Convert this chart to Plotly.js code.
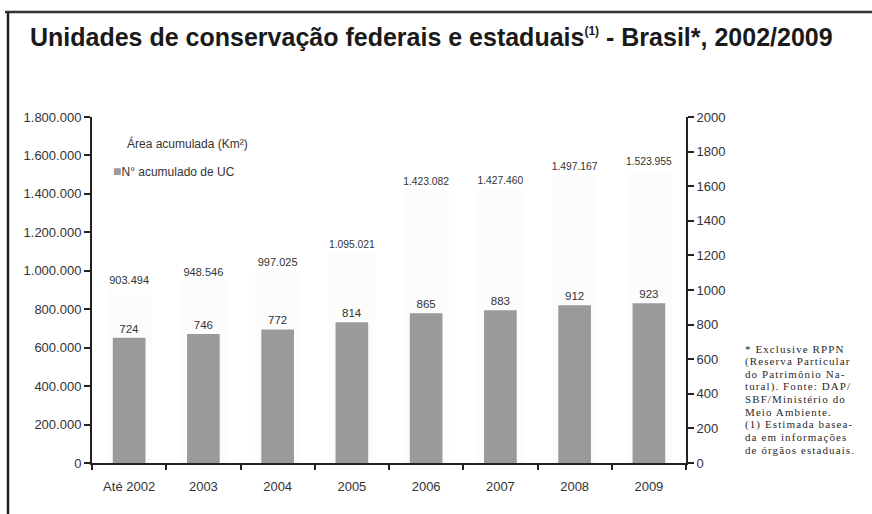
<!DOCTYPE html>
<html>
<head>
<meta charset="utf-8">
<script src="https://cdn.plot.ly/plotly-3.0.1.min.js"></script>
<style>
html,body{margin:0;padding:0;background:#fff;}
#chart{width:872px;height:514px;}
</style>
</head>
<body>
<div id="chart"></div>
<script>
const categories = ['Até 2002','2003','2004','2005','2006','2007','2008','2009'];
const areaKm2 = [903494, 948546, 997025, 1095021, 1423082, 1427460, 1497167, 1523955];
const ucCount = [724, 746, 772, 814, 865, 883, 912, 923];
const titleText = 'Unidades de conservação federais e estaduais<sup><span style="font-size:12px">(1)</span></sup> - Brasil*, 2002/2009';
const legendArea = 'Área acumulada (Km²)';
const legendUC = 'N° acumulado de UC';
const footnoteLines = [
  '* Exclusive RPPN',
  '(Reserva Particular',
  'do Patrimônio Na-',
  'tural). Fonte: DAP/',
  'SBF/Ministério do',
  'Meio Ambiente.',
  '(1) Estimada basea-',
  'da em informações',
  'de órgãos estaduais.'
];

// pixel helpers for layout placement
const W = 872, H = 514;
const PL = 92, PR = 686, PT = 117, PB = 463;
const px = x => (x - PL) / (PR - PL);
const py = y => (PB - y) / (PB - PT);

const sans = 'Liberation Sans, Arial, sans-serif';
const tickFont = {family: sans, size: 13, color: '#333'};

const traces = [
  {
    type: 'bar', x: categories, y: areaKm2, name: legendArea,
    yaxis: 'y', width: 0.62,
    marker: {color: '#fcfcfc', line: {width: 0}},
    texttemplate: '%{y:,.0f}', textposition: 'outside', cliponaxis: false,
    textfont: {family: sans, size: 11, color: '#333'},
    hoverinfo: 'x+y', showlegend: false
  },
  {
    type: 'bar', x: categories, y: ucCount, name: legendUC,
    yaxis: 'y2', width: 0.44,
    marker: {color: '#9a9a9a', line: {width: 0}},
    texttemplate: '%{y}', textposition: 'outside', cliponaxis: false,
    textfont: {family: sans, size: 11.5, color: '#333'},
    hoverinfo: 'x+y', showlegend: false
  }
];

const axisCommon = {
  showline: true, linewidth: 2, linecolor: '#222',
  ticks: 'outside', ticklen: 6, tickwidth: 2, tickcolor: '#222',
  showgrid: false, zeroline: false, tickfont: tickFont, fixedrange: true
};

const annotations = [
  {text: legendArea, xref: 'paper', yref: 'paper', x: px(125), y: py(143),
   xanchor: 'left', yanchor: 'middle', showarrow: false,
   font: {family: sans, size: 12, color: '#333'}},
  {text: '<span style="color:#9a9a9a;font-size:14px">■</span>' + legendUC, xref: 'paper', yref: 'paper', x: px(111), y: py(171),
   xanchor: 'left', yanchor: 'middle', showarrow: false,
   font: {family: sans, size: 12, color: '#333'}}
];
footnoteLines.forEach((t, i) => {
  annotations.push({
    text: '<span style="letter-spacing:1.1px">' + t + '</span>',
    xref: 'paper', yref: 'paper', x: px(743), y: py(349 + i * 12.6),
    xanchor: 'left', yanchor: 'middle', showarrow: false,
    font: {family: 'Liberation Serif, Times New Roman, serif', size: 11, color: '#2a2a2a'}
  });
});

const shapes = [
  {type: 'line', xref: 'paper', yref: 'paper', x0: px(5), x1: px(872), y0: py(12), y1: py(12),
   line: {color: '#333', width: 2.5}},
  {type: 'line', xref: 'paper', yref: 'paper', x0: px(8), x1: px(8), y0: py(12), y1: py(514),
   line: {color: '#222', width: 2.5}}
];

const layout = {
  width: W, height: H,
  margin: {l: PL, r: W - PR, t: PT, b: H - PB, pad: 0},
  paper_bgcolor: '#ffffff', plot_bgcolor: '#ffffff',
  separators: ',.',
  barmode: 'overlay',
  showlegend: false,
  title: {
    text: titleText, xref: 'container', yref: 'container',
    x: 30 / W, xanchor: 'left', y: 1 - 37 / H, yanchor: 'middle',
    font: {family: sans, size: 25, color: '#1a1a1a', weight: 'bold'}
  },
  xaxis: Object.assign({}, axisCommon, {
    type: 'category', range: [-0.5, 7.5], tickson: 'boundaries', ticklen: 5,
    ticklabelstandoff: 10,
    tickfont: {family: sans, size: 13, color: '#333'}
  }),
  yaxis: Object.assign({}, axisCommon, {
    range: [0, 1800000], dtick: 200000, tick0: 0, tickformat: ',d'
  }),
  yaxis2: Object.assign({}, axisCommon, {
    overlaying: 'y', side: 'right', range: [0, 2000], dtick: 200, tick0: 0, tickformat: 'd'
  }),
  annotations: annotations,
  shapes: shapes
};

Plotly.newPlot('chart', traces, layout, {displayModeBar: false, staticPlot: true});
</script>
</body>
</html>
